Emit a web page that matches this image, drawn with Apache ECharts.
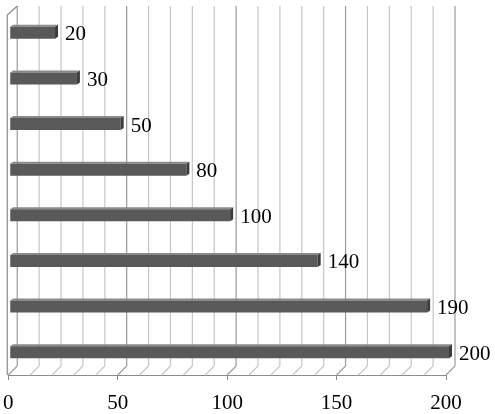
<!DOCTYPE html>
<html><head><meta charset="utf-8">
<script src="https://cdn.jsdelivr.net/npm/echarts@6/dist/echarts.min.js"></script>
<style>html,body{margin:0;padding:0;background:#fff}#c{width:495px;height:414px}</style>
</head><body><div id="c"></div>
<script>
const categories = ['1','2','3','4','5','6','7','8'];
const values = [20, 30, 50, 80, 100, 140, 190, 200];
const gridValues = [0,10,20,30,40,50,60,70,80,90,100,110,120,130,140,150,160,170,180,190,200];
const majorValues = [0, 50, 100, 150, 200];

const DX = 9, DY = -9;
const chart = echarts.init(document.getElementById('c'));
const font = 'Liberation Serif, Times New Roman, serif';

chart.setOption({
  animation: false,
  grid: {left: 6, right: 49, top: 10, bottom: 36},
  xAxis: {
    type: 'value', min: 0, max: 200, interval: 50,
    axisLine: {show: true, lineStyle: {color: '#8c8c8c', width: 1}},
    axisTick: {show: true, length: 5, lineStyle: {color: '#8c8c8c'}},
    axisLabel: {color: '#000', fontFamily: font, fontSize: 21, margin: 18},
    splitLine: {show: false}
  },
  yAxis: {
    type: 'category', data: categories, inverse: true,
    axisLine: {show: false}, axisTick: {show: false}, axisLabel: {show: false}
  },
  series: [
    {
      type: 'custom', silent: true, z: 1,
      data: gridValues.map(v => [v, 0]),
      renderItem: function (params, api) {
        const v = api.value(0);
        const cs = params.coordSys;
        const x = api.coord([v, 0])[0];
        const bottom = cs.y + cs.height;
        const major = majorValues.indexOf(v) >= 0;
        const col = major ? '#9a9a9a' : '#c6c6c6';
        const children = [
          {type: 'line', shape: {x1: x + DX, y1: cs.y - 4, x2: x + DX, y2: bottom + DY},
           style: {stroke: col, lineWidth: 1.2}},
          {type: 'line', shape: {x1: x + DX, y1: bottom + DY, x2: x, y2: bottom},
           style: {stroke: col, lineWidth: 1.1}}
        ];
        if (v === 0) {
          children.push({type: 'line', shape: {x1: x - 1, y1: cs.y + 5, x2: x - 1, y2: bottom},
            style: {stroke: '#8a8a8a', lineWidth: 1.2}});
          children.push({type: 'line', shape: {x1: x - 1, y1: cs.y + 5, x2: x + DX, y2: cs.y - 4},
            style: {stroke: '#8a8a8a', lineWidth: 1.2}});
        }
        return {type: 'group', children: children};
      }
    },
    {
      type: 'custom', silent: true, z: 3,
      data: values.map((v, i) => [v, i]),
      renderItem: function (params, api) {
        const v = api.value(0);
        const idx = api.value(1);
        const p0 = api.coord([0, idx]);
        const p1 = api.coord([v, idx]);
        const h = 12, cap = 3, dep = 2;
        const x0 = p0[0] + 2, xe = p1[0] + 3, yc = p1[1];
        const y0 = yc - h / 2, y1 = yc + h / 2;
        return {type: 'group', children: [
          {type: 'polygon', shape: {points: [[x0, y0], [x0 + cap, y0 - dep], [xe + cap, y0 - dep], [xe, y0]]},
           style: {fill: '#8a8a8a'}},
          {type: 'rect', shape: {x: x0, y: y0, width: xe - x0, height: h},
           style: {fill: '#595959'}},
          {type: 'polygon', shape: {points: [[xe, y0], [xe + cap, y0 - dep], [xe + cap, y1 - dep], [xe, y1]]},
           style: {fill: '#3c3c3c'}},
          {type: 'text', style: {x: xe + cap + 7, y: yc + 2, text: String(v),
            fill: '#000', font: '21px ' + font, textVerticalAlign: 'middle', textAlign: 'left'}}
        ]};
      }
    }
  ]
});
</script></body></html>
